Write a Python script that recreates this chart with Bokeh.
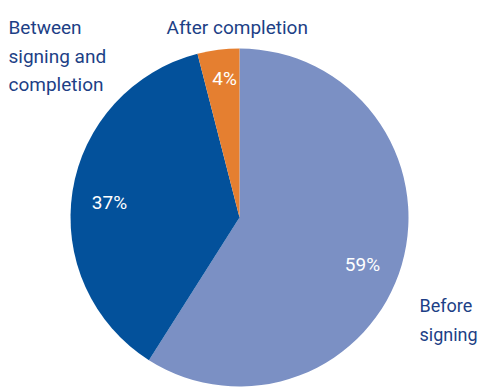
import math
from bokeh.plotting import figure
from bokeh.models import Range1d
from bokeh.core.properties import value
from bokeh.embed import file_html
from bokeh.resources import INLINE

categories = ["Before signing", "Between signing and completion", "After completion"]
shares = [59, 37, 4]
colors = ["#7b90c4", "#03519b", "#e57f30"]
label_lines = [["Before", "signing"], ["Between", "signing and", "completion"], ["After completion"]]

W, H = 479, 387
p = figure(width=W, height=H, output_backend="svg", toolbar_location=None,
           x_range=Range1d(0, W), y_range=Range1d(0, H), min_border=0)
p.axis.visible = False
p.grid.visible = False
p.outline_line_color = None
p.background_fill_color = "white"
p.border_fill_color = "white"

cx, cy, R = 239, H - 217, 169
total = sum(shares)
start = 90.0
starts, ends = [], []
for s in shares:
    end = start - s / total * 360.0
    starts.append(math.radians(end))
    ends.append(math.radians(start))
    start = end

p.wedge(x=[cx] * 3, y=[cy] * 3, radius=R, start_angle=starts, end_angle=ends,
        fill_color=colors, line_color=None)

font = value("Roboto")
pct_pos = [(362, H - 264), (109, H - 202), (224, H - 78)]
p.text(x=[q[0] for q in pct_pos], y=[q[1] for q in pct_pos],
       text=[f"{s}%" for s in shares], text_color="white", text_font=font,
       text_font_size="19px", text_align="center", text_baseline="middle")

# label anchor (left x, first baseline y in pixels from top), line step, size
anchors = [(419, 305), (8, 27), (166, 27)]
sizes = ["18px", "19px", "19px"]
step = 28.5
for (ax, ay), lines, fs in zip(anchors, label_lines, sizes):
    xs, ys, ts = [], [], []
    for i, t in enumerate(lines):
        xs.append(ax)
        ys.append(H - (ay + i * step))
        ts.append(t)
    p.text(x=xs, y=ys, text=ts, text_color="#1d3f86", text_font=font,
           text_font_size=fs, text_align="left", text_baseline="alphabetic")

open("out.html", "w").write(file_html(p, INLINE))
